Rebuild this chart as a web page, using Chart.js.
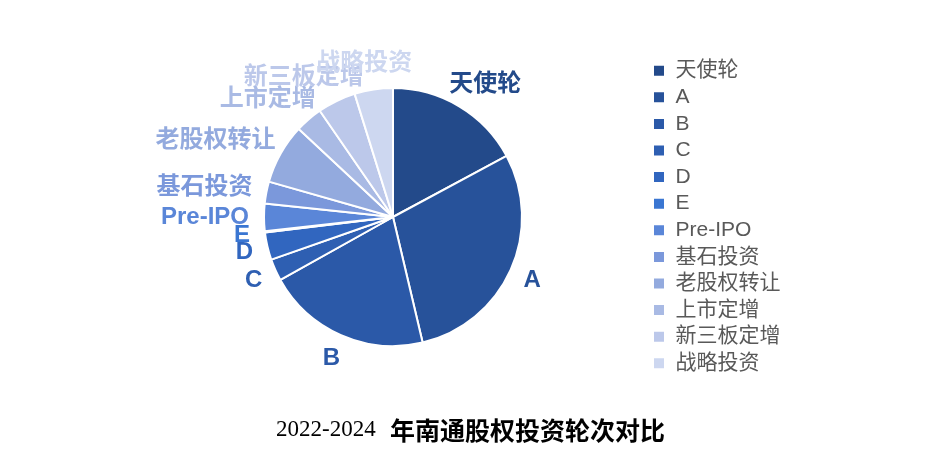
<!DOCTYPE html>
<html>
<head>
<meta charset="utf-8">
<script src="https://cdn.jsdelivr.net/npm/chart.js@4.4.1/dist/chart.umd.min.js"></script>
<style>
  html, body { margin: 0; padding: 0; background: #ffffff; }
  body { width: 926px; height: 470px; position: relative; overflow: hidden; }
  #wrap { position: absolute; left: 0; top: 0; width: 926px; height: 434px; }
  .title { position: absolute; top: 414px; height: 30px; line-height: 30px; color: #000; white-space: nowrap; }
  #tnum { left: 276px; font-family: "Liberation Serif", "DejaVu Serif", serif; font-size: 23px; }
  #tcjk { left: 390px; font-family: "Noto Sans CJK SC", sans-serif; font-weight: 700; font-size: 25px; }
</style>
</head>
<body>
<div id="wrap"><canvas id="c"></canvas></div>
<div class="title" id="tnum">2022-2024</div>
<div class="title" id="tcjk">年南通股权投资轮次对比</div>
<script>
const categories = ['天使轮', 'A', 'B', 'C', 'D', 'E', 'Pre-IPO', '基石投资', '老股权转让', '上市定增', '新三板定增', '战略投资'];
const dealCounts = [50, 85, 60, 8, 10, 0.5, 10, 8, 22, 10, 14, 14];
const sliceColors = ['#234a8a', '#27529a', '#2b59a8', '#2e5fb2', '#3166bf', '#3a76d2',
                     '#5a86d8', '#7b98db', '#93aade', '#a9bae4', '#bcc8ea', '#cdd7f0'];

const FONT_FAMILY = '"Liberation Sans", "Noto Sans CJK SC", sans-serif';

const outsideLabels = {
  id: 'outsideLabels',
  afterDatasetsDraw(chart) {
    const ctx = chart.ctx;
    const meta = chart.getDatasetMeta(0);
    ctx.save();
    ctx.font = 'bold 24px ' + FONT_FAMILY;
    ctx.textAlign = 'center';
    ctx.textBaseline = 'middle';
    const h = 22;
    meta.data.forEach((arc, i) => {
      const p = arc.getProps(['x', 'y', 'startAngle', 'endAngle', 'outerRadius'], true);
      const a = (p.startAngle + p.endAngle) / 2;
      const R = p.outerRadius + 15;
      const px = p.x + R * Math.cos(a);
      const py = p.y + R * Math.sin(a);
      const label = chart.data.labels[i];
      const w = ctx.measureText(label).width;
      const bx = px + (w / 2) * Math.cos(a);
      const by = py + (h / 2) * Math.sin(a);
      ctx.fillStyle = sliceColors[i];
      ctx.fillText(label, bx, by);
    });
    ctx.restore();
  }
};

new Chart(document.getElementById('c'), {
  type: 'pie',
  data: {
    labels: categories,
    datasets: [{
      data: dealCounts,
      backgroundColor: sliceColors,
      borderColor: '#ffffff',
      borderWidth: 2,
      radius: 129
    }]
  },
  options: {
    responsive: true,
    maintainAspectRatio: false,
    animation: false,
    layout: { padding: { left: 138.6, right: 135.5, top: 0, bottom: 0 } },
    plugins: {
      title: { display: false },
      tooltip: { enabled: false },
      legend: {
        position: 'right',
        align: 'center',
        labels: {
          boxWidth: 12,
          boxHeight: 12,
          padding: 5.6,
          color: '#595959',
          font: { family: FONT_FAMILY, size: 21 }
        }
      }
    }
  },
  plugins: [outsideLabels]
});
</script>
</body>
</html>
